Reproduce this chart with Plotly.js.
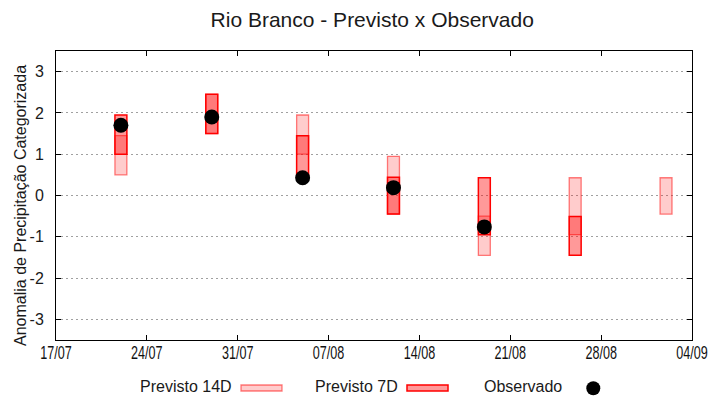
<!DOCTYPE html>
<html>
<head>
<meta charset="utf-8">
<script src="https://cdn.plot.ly/plotly-3.0.1.min.js"></script>
<style>html,body{margin:0;padding:0;background:#fff}#chart{width:720px;height:400px}</style>
</head>
<body>
<div id="chart"></div>
<script>
// Data
const dates    = ['2023-07-22','2023-07-29','2023-08-05','2023-08-12','2023-08-19','2023-08-26','2023-09-02'];
const p14Low   = [0.5, 1.5, 1.0, -0.45, -1.45, -0.95, -0.45];
const p14High  = [1.45, 2.45, 1.95, 0.95, -0.5, 0.43, 0.43];
const p7Low    = [1.0, 1.5, 0.5, -0.45, -0.95, -1.45, null];
const p7High   = [1.95, 2.45, 1.45, 0.44, 0.43, -0.51, null];
const observed = [1.7, 1.9, 0.43, 0.19, -0.76, null, null];
const tickDates  = ['2023-07-17','2023-07-24','2023-07-31','2023-08-07','2023-08-14','2023-08-21','2023-08-28','2023-09-04'];
const tickLabels = ['17/07','24/07','31/07','07/08','14/08','21/08','28/08','04/09'];
const yTicks     = [-3,-2,-1,0,1,2,3];

const DAY = 86400000;
const FONT = 'Liberation Sans, Arial, sans-serif';

function span(lo, hi){ return lo.map((v,i)=> (v===null||hi[i]===null) ? null : hi[i]-v); }

const traces = [
  {
    type:'bar', name:'Previsto 14D', x: dates, base: p14Low, y: span(p14Low,p14High),
    width: 0.92*DAY,
    marker:{color:'rgba(255,0,0,0.2)', line:{color:'rgba(255,0,0,0.5)', width:1.3}},
    hoverinfo:'skip'
  },
  {
    type:'bar', name:'Previsto 7D', x: dates, base: p7Low, y: span(p7Low,p7High),
    width: 0.92*DAY,
    marker:{color:'rgba(255,0,0,0.4)', line:{color:'rgb(255,0,0)', width:1.5}},
    hoverinfo:'skip'
  },
  {
    type:'scatter', mode:'markers', name:'Observado', x: dates, y: observed,
    marker:{color:'black', size:15, symbol:'circle'},
    hoverinfo:'skip'
  }
];

// plot area in pixels: x 56..692, y 51..340
const L=56, R=692, T=51, B=340;
const px = x => (x-L)/(R-L);
const py = y => (B-y)/(B-T);

const legendY = py(386);
const layout = {
  width:720, height:400,
  margin:{l:L, r:720-R, t:T, b:400-B, pad:0},
  paper_bgcolor:'#fff', plot_bgcolor:'#fff',
  showlegend:false,
  barmode:'overlay',
  font:{family:FONT, color:'#000', size:16},
  title:{text:'Rio Branco - Previsto x Observado', font:{family:FONT, size:21, color:'#1a1a1a'}, x:0.517, xanchor:'center', y:0.95, yanchor:'middle'},
  xaxis:{
    type:'date', range:['2023-07-17','2023-09-04'],
    tickmode:'array', tickvals:tickDates, ticktext:tickLabels,
    ticks:'inside', ticklen:5, tickcolor:'#000', tickwidth:1,
    showline:true, linecolor:'#000', linewidth:1, mirror:'ticks',
    showgrid:false, zeroline:false,
    tickfont:{family:FONT, size:18, color:'#111'},
    ticklabelstandoff:-4
  },
  yaxis:{
    range:[-3.5,3.5], tickmode:'array', tickvals:yTicks, ticktext:yTicks.map(String),
    ticks:'inside', ticklen:5, tickcolor:'#000', tickwidth:1,
    showline:true, linecolor:'#000', linewidth:1, mirror:'ticks',
    showgrid:true, gridcolor:'#a0a0a0', griddash:'2px,3px', gridwidth:1,
    zeroline:false,
    tickfont:{family:FONT, size:16, color:'#1a1a1a'},
    ticklabelstandoff:8
  },
  annotations:[
    {xref:'paper', yref:'paper', x:px(20), y:py(206), xanchor:'center', yanchor:'middle', textangle:-90, text:'Anomalia de Precipitação Categorizada', showarrow:false, font:{family:FONT,size:16,color:'#1a1a1a'}},
    {xref:'paper', yref:'paper', x:px(234), y:legendY, xanchor:'right', yanchor:'middle', text:'Previsto 14D', showarrow:false, font:{family:FONT,size:16,color:'#1a1a1a'}},
    {xref:'paper', yref:'paper', x:px(400), y:legendY, xanchor:'right', yanchor:'middle', text:'Previsto 7D', showarrow:false, font:{family:FONT,size:16,color:'#1a1a1a'}},
    {xref:'paper', yref:'paper', x:px(564), y:legendY, xanchor:'right', yanchor:'middle', text:'Observado', showarrow:false, font:{family:FONT,size:16,color:'#1a1a1a'}}
  ],
  shapes:[
    {type:'rect', xref:'paper', yref:'paper', x0:px(241), x1:px(282), y0:py(385), y1:py(391), fillcolor:'rgba(255,0,0,0.2)', line:{color:'rgba(255,0,0,0.5)', width:1.3}},
    {type:'rect', xref:'paper', yref:'paper', x0:px(407), x1:px(448), y0:py(385), y1:py(391), fillcolor:'rgba(255,0,0,0.4)', line:{color:'rgb(255,0,0)', width:1.5}},
    {type:'circle', xref:'paper', yref:'paper', x0:px(586.3), x1:px(600.3), y0:py(381.3), y1:py(395.3), fillcolor:'#000', line:{color:'#000', width:0}}
  ]
};

function narrowXTicks(gd){
  // the reference uses a condensed face for the date labels
  gd.querySelectorAll('.xtick text').forEach(t=>{
    const tr = t.getAttribute('transform') || '';
    if (tr.indexOf('scale') === -1) t.setAttribute('transform', tr + ' scale(0.7,1)');
  });
}

Plotly.newPlot('chart', traces, layout, {staticPlot:true, displayModeBar:false}).then(gd=>narrowXTicks(gd));
</script>
</body>
</html>
